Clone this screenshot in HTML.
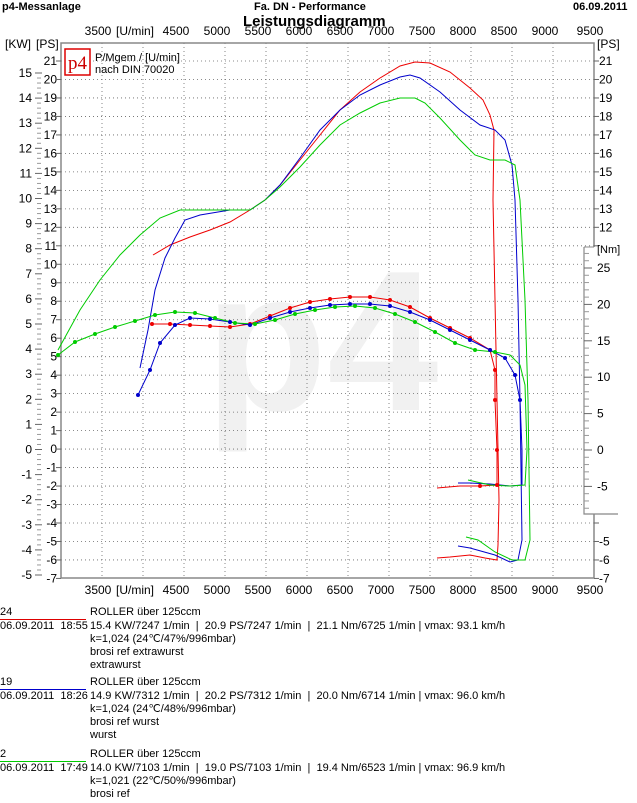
<!DOCTYPE html>
<html><head><meta charset="utf-8"><style>
body{margin:0;background:#fff;width:637px;height:803px;overflow:hidden;font-family:"Liberation Sans",sans-serif}
svg{position:absolute;left:0;top:0}
.l{position:absolute;font-size:11px;white-space:nowrap;line-height:13px}
</style></head><body>
<svg width="637" height="803" font-family="Liberation Sans" font-size="11">
<text x="205" y="410" font-size="200" fill="#f1f1f1" font-weight="bold">p4</text>
<g id="grid" stroke="#666" stroke-width="0.8" stroke-dasharray="1,3">
<line x1="102" y1="43" x2="102" y2="578"/><line x1="143" y1="43" x2="143" y2="578"/><line x1="184" y1="43" x2="184" y2="578"/><line x1="225" y1="43" x2="225" y2="578"/><line x1="266" y1="43" x2="266" y2="578"/><line x1="307" y1="43" x2="307" y2="578"/><line x1="348" y1="43" x2="348" y2="578"/><line x1="389" y1="43" x2="389" y2="578"/><line x1="430" y1="43" x2="430" y2="578"/><line x1="471" y1="43" x2="471" y2="578"/><line x1="512" y1="43" x2="512" y2="578"/><line x1="553" y1="43" x2="553" y2="578"/>
</g>
<g stroke="#666" stroke-width="0.8" stroke-dasharray="1,3" id="hg"></g>
<rect x="61" y="43" width="533" height="535" fill="none" stroke="#888" stroke-width="1.5"/>
<g font-size="12" text-anchor="middle">
<text x="98" y="35">3500</text><text x="135" y="35">[U/min]</text><text x="176" y="35">4500</text><text x="217" y="35">5000</text><text x="258" y="35">5500</text><text x="299" y="35">6000</text><text x="340" y="35">6500</text><text x="381" y="35">7000</text><text x="422" y="35">7500</text><text x="463" y="35">8000</text><text x="504" y="35">8500</text><text x="545" y="35">9000</text><text x="590" y="35">9500</text>
<text x="98" y="594">3500</text><text x="135" y="594">[U/min]</text><text x="176" y="594">4500</text><text x="217" y="594">5000</text><text x="258" y="594">5500</text><text x="299" y="594">6000</text><text x="340" y="594">6500</text><text x="381" y="594">7000</text><text x="422" y="594">7500</text><text x="463" y="594">8000</text><text x="504" y="594">8500</text><text x="545" y="594">9000</text><text x="590" y="594">9500</text>
</g>
<text x="2" y="10" font-weight="bold">p4-Messanlage</text>
<text x="254" y="10" font-weight="bold">Fa. DN - Performance</text>
<text x="243" y="26" font-weight="bold" font-size="15">Leistungsdiagramm</text>
<text x="573" y="10" font-weight="bold">06.09.2011</text>
<text x="5" y="48" font-size="12">[KW]</text><text x="36" y="48" font-size="12">[PS]</text>
<text x="597" y="48" font-size="12">[PS]</text>
<g id="ps" font-size="12"></g>
<rect x="65" y="49" width="25" height="26" fill="#fff" stroke="#d00" stroke-width="1.5"/>
<text x="68" y="69" font-family="Liberation Serif" font-size="19" fill="#c00">p4</text>
<text x="95" y="61">P/Mgem / [U/min]</text><text x="95" y="73">nach DIN 70020</text>
<g fill="none" stroke-width="1">
<polyline stroke="#e00" points="153,255 170,245 190,237 210,230 230,222 250,210 265,200 280,185 300,160 320,135 340,110 360,92 380,78 400,66 415,62 430,63 450,72 470,88 483,100 490,115 494,130 493,200 495,300 497,400 499,500 498,545 497,560 485,558 470,555 450,557 437,558"/>
<polyline stroke="#00c" points="140,368 148,330 155,290 165,258 175,238 185,220 200,215 230,210 250,210 265,200 280,185 300,158 320,130 340,110 360,95 380,85 400,77 410,75 420,78 440,92 460,110 480,125 495,130 505,140 512,165 515,200 518,300 520,400 522,540 518,560 510,562 495,555 470,548 458,546"/>
<polyline stroke="#0c0" points="58,350 80,310 100,280 120,255 140,235 160,218 180,210 200,210 230,210 250,210 265,200 280,187 300,167 320,145 340,125 360,113 380,103 400,98 415,98 425,103 440,118 460,140 475,155 490,160 505,160 515,165 520,200 525,300 528,400 530,540 525,560 512,560 495,552 478,540 466,537"/>
<polyline stroke="#e00" points="152,324 170,324 190,325 210,326 230,327 250,324 270,316 290,308 310,302 330,299 350,297 370,297 390,300 410,307 430,318 450,328 470,338 490,350 495,370 495,400 497,450 497,485 480,486 460,486 437,488"/>
<polyline stroke="#00c" points="138,395 150,370 160,343 175,325 190,318 210,319 230,322 250,325 270,318 290,312 310,308 330,305 350,304 370,304 390,306 410,312 430,320 450,330 470,340 490,350 505,358 515,375 520,400 522,450 522,485 510,486 490,484 470,483 458,483"/>
<polyline stroke="#0c0" points="58,355 75,342 95,334 115,327 135,321 155,315 175,312 195,313 215,318 235,323 255,324 275,320 295,314 315,310 335,307 355,306 375,308 395,314 415,322 435,332 455,343 475,350 495,352 510,355 520,365 525,385 527,450 525,485 510,486 490,485 468,480"/>
</g>
<g id="dots"></g>
<g id="nm" font-size="12">
<rect x="584" y="247" width="60" height="267" fill="#fff"/>
<polyline points="584,247 584,514 618,514" fill="none" stroke="#888" stroke-width="1.2"/>
<line x1="584" y1="247" x2="594" y2="247" stroke="#888"/>
<text x="597" y="253" font-size="11">[Nm]</text>
</g>
</svg>
<div class="l" style="left:0px;top:606px">24</div><div style="position:absolute;left:0px;top:619px;width:86px;border-top:1px solid #d00"></div>
<div class="l" style="left:90px;top:606px">ROLLER über 125ccm</div>
<div class="l" style="left:0px;top:620px">06.09.2011 &nbsp;18:55</div>
<div class="l" style="left:90px;top:620px">15.4 KW/7247 1/min &nbsp;| &nbsp;20.9 PS/7247 1/min &nbsp;| &nbsp;21.1 Nm/6725 1/min | vmax: 93.1 km/h<br>k=1,024 (24℃/47%/996mbar)<br>brosi ref extrawurst<br>extrawurst</div>
<div class="l" style="left:0px;top:676px">19</div><div style="position:absolute;left:0px;top:689px;width:86px;border-top:1px solid #00c"></div>
<div class="l" style="left:90px;top:676px">ROLLER über 125ccm</div>
<div class="l" style="left:0px;top:690px">06.09.2011 &nbsp;18:26</div>
<div class="l" style="left:90px;top:690px">14.9 KW/7312 1/min &nbsp;| &nbsp;20.2 PS/7312 1/min &nbsp;| &nbsp;20.0 Nm/6714 1/min | vmax: 96.0 km/h<br>k=1,024 (24℃/48%/996mbar)<br>brosi ref wurst<br>wurst</div>
<div class="l" style="left:0px;top:748px">2</div><div style="position:absolute;left:0px;top:761px;width:86px;border-top:1px solid #0c0"></div>
<div class="l" style="left:90px;top:748px">ROLLER über 125ccm</div>
<div class="l" style="left:0px;top:762px">06.09.2011 &nbsp;17:49</div>
<div class="l" style="left:90px;top:762px">14.0 KW/7103 1/min &nbsp;| &nbsp;19.0 PS/7103 1/min &nbsp;| &nbsp;19.4 Nm/6523 1/min | vmax: 96.9 km/h<br>k=1,021 (22℃/50%/996mbar)<br>brosi ref</div>
<script>
var ns="http://www.w3.org/2000/svg",ps=document.getElementById("ps"),hg=document.getElementById("hg"),nm=document.getElementById("nm");
function t(g,x,y,s,a){var e=document.createElementNS(ns,"text");e.setAttribute("x",x);e.setAttribute("y",y);if(a)e.setAttribute("text-anchor",a);e.textContent=s;g.appendChild(e);}
function ln(g,x1,y1,x2,y2,st){var e=document.createElementNS(ns,"line");e.setAttribute("x1",x1);e.setAttribute("y1",y1);e.setAttribute("x2",x2);e.setAttribute("y2",y2);if(st)e.setAttribute("stroke",st);g.appendChild(e);}
for(var p=21;p>=-7;p--){var y=61+(21-p)*18.48;if(p>-7)ln(hg,61,y,594,y);t(ps,57,y+4,p,"end");if(y<240||y>530)t(ps,599,y+4,p);ln(ps,56,y,61,y,"#666");ln(ps,594,y,599,y,"#666");}
for(var k=15;k>=-5;k--){var y=73+(15-k)*25.1;t(ps,32,y+4,k,"end");ln(ps,35,y,42,y,"#666");for(var j=1;j<5&&k>-5;j++)ln(ps,37,y+j*5.02,41,y+j*5.02,"#999");}
for(var n=25;n>=-5;n-=5){var y=450-n*7.28;t(nm,597,y+4,n);ln(nm,584,y,592,y,"#666");}
for(var n=-8;n<=27;n++){if(n%5)ln(nm,584,450-n*7.28,589,450-n*7.28,"#999");}
var d=document.getElementById("dots");
document.querySelectorAll("polyline").forEach(function(pl,i){if(i<3||i>5)return;var col=pl.getAttribute("stroke");var pts=pl.getAttribute("points").trim().split(" ");pts.forEach(function(s,j){if(j>22)return;var c=s.split(",");var e=document.createElementNS(ns,"circle");e.setAttribute("cx",c[0]);e.setAttribute("cy",c[1]);e.setAttribute("r",2);e.setAttribute("fill",col);d.appendChild(e);});});
</script>
</body></html>
